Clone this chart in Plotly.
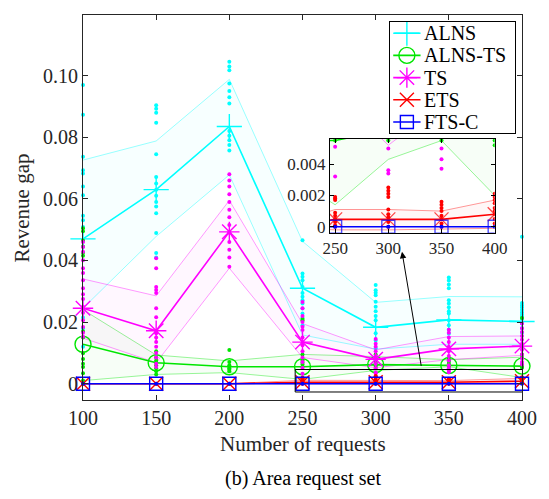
import plotly.graph_objects as go

# ---------------- data ----------------
X = [100, 150, 200, 250, 300, 350, 400]
SERIES = ["ALNS", "ALNS-TS", "TS", "ETS", "FTS-C"]

ALNS_MEAN = [0.047, 0.063, 0.0835, 0.031, 0.0183, 0.0207, 0.0202]
ALNS_UP = [0.0726, 0.0788, 0.0988, 0.0462, 0.0264, 0.0283, 0.0282]
ALNS_LO = [0.0245, 0.0478, 0.0678, 0.0158, 0.0112, 0.0128, 0.0128]

ALNSTS_MEAN = [0.0128, 0.0068, 0.0055, 0.0055, 0.0062, 0.0059, 0.0057]
ALNSTS_UP = [0.0240, 0.0093, 0.0074, 0.0095, 0.0088, 0.0078, 0.0086]
ALNSTS_LO = [0.0010, 0.0030, 0.0036, 0.0014, 0.0043, 0.0055, 0.0020]

TS_MEAN = [0.0245, 0.0172, 0.0493, 0.0135, 0.0079, 0.0113, 0.0122]
TS_UP = [0.0340, 0.0285, 0.0595, 0.0195, 0.0110, 0.0153, 0.0155]
TS_LO = [0.0148, 0.0068, 0.0375, 0.0085, 0.0052, 0.0078, 0.0092]

ETS_MEAN = [0.0, 0.0, 0.0, 0.00047, 0.00047, 0.00047, 0.0008]
ETS_UP = [0.0, 0.0, 0.0, 0.0011, 0.0011, 0.0010, 0.0017]
ETS_LO = [0.0, 0.0, 0.0, -0.0002, -0.0002, -0.00015, -0.0001]

FTSC_MEAN = [0.0, 0.0, 0.0, 0.0, 0.0, 0.0, 0.0]

ALNS_RUNS = [
    [0.097, 0.0873, 0.0737, 0.0693, 0.0682, 0.064, 0.0612, 0.0545, 0.0531, 0.0509, 0.0215, 0.018, 0.012],
    [0.0904, 0.0893, 0.088, 0.0847, 0.0745, 0.0671, 0.065, 0.063, 0.061, 0.059, 0.0575, 0.0553, 0.0489, 0.0424, 0.041],
    [0.1045, 0.103, 0.1018, 0.0975, 0.095, 0.093, 0.091, 0.082, 0.0805, 0.079, 0.0775, 0.0757],
    [0.0466, 0.0358, 0.0347, 0.0336, 0.0314, 0.0294, 0.0282, 0.0271, 0.026, 0.0244, 0.0228, 0.0213, 0.019],
    [0.032, 0.0303, 0.0295, 0.0287, 0.0266, 0.025, 0.0235, 0.022, 0.0206, 0.0164, 0.014, 0.0115, 0.0086],
    [0.0345, 0.0335, 0.0322, 0.031, 0.0271, 0.026, 0.0248, 0.0235, 0.0228, 0.0206, 0.019, 0.0175, 0.0162],
    [0.0477, 0.0262, 0.0255, 0.0248, 0.024, 0.0232, 0.0225, 0.0218, 0.021, 0.0195, 0.018, 0.0165],
]
ALNSTS_RUNS = [
    [0.0505, 0.0495, 0.0465, 0.0445, 0.0425, 0.0415, 0.017, 0.015, 0.0099, 0.008, 0.0065, 0.0054, 0.0034, 0.001],
    [0.0105, 0.0085, 0.0075, 0.0068, 0.006, 0.005, 0.004, 0.003],
    [0.0109, 0.007, 0.006, 0.0055, 0.005, 0.0045, 0.004],
    [0.021, 0.0205, 0.0095, 0.0075, 0.0068, 0.0062, 0.0055],
    [0.0095, 0.008, 0.007, 0.0065, 0.006, 0.0055],
    [0.0083, 0.0075, 0.0071, 0.0065, 0.006, 0.0055],
    [0.0213, 0.0095, 0.0085, 0.0061, 0.0055, 0.0052],
]
TS_RUNS = [
    [0.046, 0.0444, 0.0428, 0.0401, 0.0375, 0.0359, 0.0336, 0.031, 0.029, 0.0275, 0.025, 0.023, 0.0206, 0.0184, 0.0165, 0.0152],
    [0.0407, 0.0375, 0.0314, 0.0304, 0.0294, 0.0245, 0.0216, 0.0164, 0.015, 0.0135, 0.012, 0.01, 0.0085, 0.0065, 0.0054],
    [0.068, 0.066, 0.064, 0.0615, 0.059, 0.0565, 0.054, 0.0515, 0.049, 0.046, 0.0435, 0.041, 0.038],
    [0.0265, 0.0245, 0.022, 0.02, 0.0185, 0.0174, 0.015, 0.0125, 0.0105, 0.0085, 0.007, 0.0051, 0.0032],
    [0.0145, 0.013, 0.012, 0.0105, 0.009, 0.0078, 0.0065, 0.005, 0.0036, 0.0034],
    [0.0175, 0.0165, 0.015, 0.0135, 0.012, 0.0105, 0.009, 0.0075, 0.006, 0.005, 0.0043, 0.0037],
    [0.0195, 0.018, 0.0168, 0.0155, 0.0143, 0.013, 0.012, 0.011, 0.0095, 0.0082, 0.007, 0.0062],
]
ETS_RUNS = [
    [0.0], [0.0], [0.0],
    [0.0019, 0.0018, 0.0017, 0.0009, 0.0007, 0.0005, 0.0003, 0.0001, 0.0],
    [0.0025, 0.0023, 0.0021, 0.0019, 0.0011, 0.0008, 0.0006, 0.0003, 0.0],
    [0.0016, 0.0014, 0.0012, 0.001, 0.0007, 0.0005, 0.0002, 0.0],
    [0.0021, 0.0019, 0.0017, 0.0015, 0.0012, 0.001, 0.0008, 0.0005, 0.0002],
]
FTSC_RUNS = [[0.0]] * 7

X_TICKS = [100, 150, 200, 250, 300, 350, 400]
Y_TICKS = [0, 0.02, 0.04, 0.06, 0.08, 0.10, 0.12]
Y_TICK_TEXT = ["0", "0.02", "0.04", "0.06", "0.08", "0.10", "0.12"]
INSET_X_RANGE = [245, 400]
INSET_Y_RANGE = [-0.0004, 0.0056]
INSET_X_TICKS = [250, 300, 350, 400]
INSET_Y_TICKS = [0, 0.002, 0.004]
INSET_Y_TICK_TEXT = ["0", "0.002", "0.004"]

# ---------------- styles ----------------
FONT = "Liberation Serif, Times New Roman, Times, serif"
TXT = "#262626"
COLORS = {"ALNS": (0, 255, 255), "ALNS-TS": (0, 230, 0), "TS": (255, 0, 255),
          "ETS": (255, 0, 0), "FTS-C": (0, 0, 255)}
SYMBOLS = {"ALNS": "cross-thin-open", "ALNS-TS": "circle-open", "TS": "asterisk-open",
           "ETS": "x-thin-open", "FTS-C": "square-open"}
SIZES = {"ALNS": 18, "ALNS-TS": 16, "TS": 17, "ETS": 14, "FTS-C": 13}

DATA = {
    "ALNS": (ALNS_MEAN, ALNS_UP, ALNS_LO, ALNS_RUNS),
    "ALNS-TS": (ALNSTS_MEAN, ALNSTS_UP, ALNSTS_LO, ALNSTS_RUNS),
    "TS": (TS_MEAN, TS_UP, TS_LO, TS_RUNS),
    "ETS": (ETS_MEAN, ETS_UP, ETS_LO, ETS_RUNS),
    "FTS-C": (FTSC_MEAN, None, None, FTSC_RUNS),
}


def rgba(c, a):
    return "rgba(%d,%d,%d,%s)" % (c[0], c[1], c[2], a)


fig = go.Figure()


def add_series(xa, ya, inset):
    for name in SERIES:
        mean, up, lo, runs = DATA[name]
        c = COLORS[name]
        if up is not None:
            fig.add_trace(go.Scatter(x=X, y=lo, mode="lines", line=dict(color=rgba(c, 0.4), width=1),
                                     showlegend=False, hoverinfo="skip", xaxis=xa, yaxis=ya))
            fig.add_trace(go.Scatter(x=X, y=up, mode="lines", line=dict(color=rgba(c, 0.4), width=1),
                                     fill="tonexty", fillcolor=rgba(c, 0.03),
                                     showlegend=False, hoverinfo="skip", xaxis=xa, yaxis=ya))
    for name in SERIES:
        mean, up, lo, runs = DATA[name]
        c = COLORS[name]
        rx, ry = [], []
        for xv, vals in zip(X, runs):
            rx += [xv] * len(vals)
            ry += vals
        fig.add_trace(go.Scatter(x=rx, y=ry, mode="markers",
                                 marker=dict(color=rgba(c, 1), size=4, line=dict(width=0)),
                                 cliponaxis=inset, showlegend=False, hoverinfo="skip",
                                 xaxis=xa, yaxis=ya))
        if inset:
            # markers only where the point lies inside the inset window
            msz = [SIZES[name] if (INSET_Y_RANGE[0] <= v <= INSET_Y_RANGE[1] - 0.0003) else 0
                   for v in mean]
        else:
            msz = SIZES[name]
        fig.add_trace(go.Scatter(x=X, y=mean, mode="lines+markers", name=name,
                                 line=dict(color=rgba(c, 1), width=1.6),
                                 marker=dict(symbol=SYMBOLS[name], size=msz,
                                             color=rgba(c, 1), line=dict(color=rgba(c, 1), width=1.4)),
                                 cliponaxis=inset, showlegend=False, xaxis=xa, yaxis=ya))


add_series("x", "y", False)
add_series("x2", "y2", True)

# ---------------- manual legend (own axes in pixel units) ----------------
LEG_ROWS = [33.2, 55.4, 77.6, 99.8, 122.0]
for name, ry in zip(SERIES, LEG_ROWS):
    c = COLORS[name]
    fig.add_trace(go.Scatter(x=[401, 429], y=[ry, ry], mode="lines",
                             line=dict(color=rgba(c, 1), width=1.6), showlegend=False,
                             hoverinfo="skip", xaxis="x3", yaxis="y3"))
    fig.add_trace(go.Scatter(x=[415], y=[ry], mode="markers",
                             marker=dict(symbol=SYMBOLS[name], size=SIZES[name], color=rgba(c, 1),
                                         line=dict(color=rgba(c, 1), width=1.4)),
                             showlegend=False, hoverinfo="skip", xaxis="x3", yaxis="y3"))
    fig.add_annotation(x=431, y=ry, xref="x3", yref="y3", text=name, showarrow=False,
                       xanchor="left", yanchor="middle",
                       font=dict(family=FONT, size=20, color="black"))

# ---------------- layout ----------------
L, R, T, B = 83, 533, 15, 400
W, H = 549, 499
PW, PH = R - L, B - T


def px(xp):
    return (xp - L) / PW


def py(yp):
    return (B - yp) / PH


axis_common = dict(showline=True, mirror="ticks", linecolor=TXT, linewidth=1, ticks="inside",
                   ticklen=5, tickcolor=TXT, showgrid=False, zeroline=False,
                   tickfont=dict(family=FONT, size=20, color=TXT))

fig.update_layout(
    width=W, height=H, margin=dict(l=L, r=W - R, t=T, b=H - B),
    paper_bgcolor="white", plot_bgcolor="white", showlegend=False,
    font=dict(family=FONT),
    xaxis=dict(range=[100, 400], tickvals=X_TICKS, domain=[0, 1], **axis_common),
    yaxis=dict(range=[-0.0053, 0.1197], tickvals=Y_TICKS, ticktext=Y_TICK_TEXT, domain=[0, 1],
               **axis_common),
    xaxis2=dict(range=INSET_X_RANGE, tickvals=INSET_X_TICKS, domain=[px(336), px(505)], anchor="y2",
                showline=True, mirror="ticks", linecolor="black", linewidth=1, ticks="inside",
                ticklen=4, tickcolor="black", showgrid=False, zeroline=False,
                tickfont=dict(family=FONT, size=17, color=TXT)),
    yaxis2=dict(range=INSET_Y_RANGE, tickvals=INSET_Y_TICKS, ticktext=INSET_Y_TICK_TEXT,
                domain=[py(233), py(139)], anchor="x2",
                showline=True, mirror="ticks", linecolor="black", linewidth=1, ticks="inside",
                ticklen=4, tickcolor="black", showgrid=False, zeroline=False,
                tickfont=dict(family=FONT, size=17, color=TXT)),
    xaxis3=dict(range=[398, 526], domain=[px(398), px(526)], anchor="y3", showline=True,
                mirror=True, linecolor="black", linewidth=1, showticklabels=False, ticks="",
                showgrid=False, zeroline=False, fixedrange=True),
    yaxis3=dict(range=[133, 22], domain=[py(133), py(22)], anchor="x3", showline=True,
                mirror=True, linecolor="black", linewidth=1, showticklabels=False, ticks="",
                showgrid=False, zeroline=False, fixedrange=True),
)

# zoom rectangle and arrow
fig.add_shape(type="rect", xref="x", yref="y", x0=245, x1=402, y0=-0.0027, y1=0.0046,
              line=dict(color="black", width=1), layer="above")
fig.add_annotation(x=318, y=0.0428, ax=331.3, ay=0.0053, xref="x", yref="y", axref="x", ayref="y",
                   text="", showarrow=True, arrowhead=2, arrowsize=1.3, arrowwidth=1,
                   arrowcolor="black")

# axis titles & caption
fig.add_annotation(x=0.5, y=py(444), xref="paper", yref="paper", text="Number of requests",
                   showarrow=False, xanchor="center", yanchor="middle",
                   font=dict(family=FONT, size=21, color=TXT))
fig.add_annotation(x=0.5, y=py(478), xref="paper", yref="paper", text="(b) Area request set",
                   showarrow=False, xanchor="center", yanchor="middle",
                   font=dict(family=FONT, size=20, color="black"))
fig.add_annotation(x=px(20), y=py(208), xref="paper", yref="paper", text="Revenue gap",
                   showarrow=False, textangle=-90, xanchor="center", yanchor="middle",
                   font=dict(family=FONT, size=21, color=TXT))

fig.write_html("out.html")
